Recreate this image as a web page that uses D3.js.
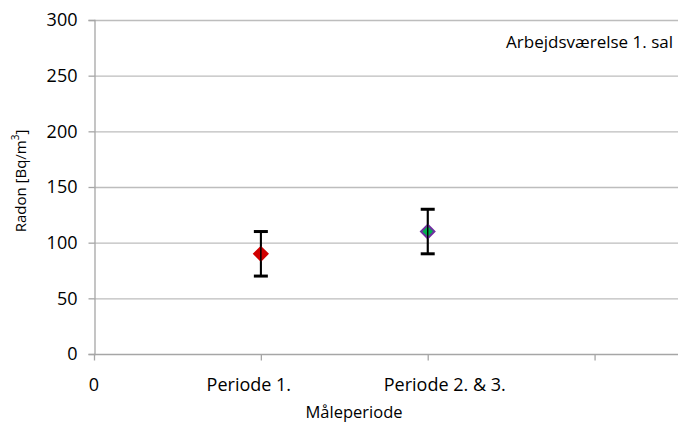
<!DOCTYPE html>
<html><head><meta charset="utf-8">
<script src="https://cdn.jsdelivr.net/npm/d3@7"></script>
<style>body{margin:0;background:#fff}svg{display:block}text{font-family:"Open Sans",sans-serif;fill:#000}</style>
</head><body>
<svg id="c" width="680" height="430"></svg>
<script>
const categories = ["Periode 1.", "Periode 2. & 3."];
const xPositions = [1, 2];
const values = [90, 110];
const errLow = [70, 90];
const errHigh = [110, 130];
const yTicks = [0, 50, 100, 150, 200, 250, 300];
const xTicks = [0, 1, 2, 3];
const markerFill = ["#d00000", "#00b050"];
const markerStroke = ["#d00000", "#7030a0"];

const svg = d3.select("#c");
const mLeft = 94, mRight = 678, mTop = 20, mBottom = 354;
const x = d3.scaleLinear().domain([0, 3.5]).range([mLeft, mRight]);
const y = d3.scaleLinear().domain([0, 300]).range([mBottom, mTop]);

// gridlines
svg.append("g").selectAll("line").data(yTicks.filter(d => d > 0)).join("line")
  .attr("x1", mLeft).attr("x2", mRight)
  .attr("y1", d => y(d) + 0.5).attr("y2", d => y(d) + 0.5)
  .attr("stroke", "#bdbdbd").attr("stroke-width", 1.3);

// y axis
const ya = svg.append("g").attr("transform", `translate(${mLeft + 0.5},0)`)
  .call(d3.axisLeft(y).tickValues(yTicks).tickSize(6).tickPadding(11));
ya.select(".domain").attr("stroke", "#a6a6a6").attr("stroke-width", 1.3);
ya.selectAll(".tick line").attr("stroke", "#a6a6a6").attr("stroke-width", 1.3);
ya.selectAll(".tick text").attr("font-size", 18).attr("font-family", "Open Sans").attr("fill", "#000");

// x axis
const xa = svg.append("g").attr("transform", `translate(0,${mBottom + 0.5})`)
  .call(d3.axisBottom(x).tickValues(xTicks).tickSize(6).tickFormat(() => ""));
xa.select(".domain").attr("stroke", "#a6a6a6").attr("stroke-width", 1.3).attr("d", `M${mLeft},0H${mRight}`);
xa.selectAll(".tick line").attr("stroke", "#a6a6a6").attr("stroke-width", 1.3);

// x labels
svg.append("text").attr("x", x(0)).attr("y", 391).attr("text-anchor", "middle")
  .attr("font-size", 18).text("0");
svg.append("g").selectAll("text").data(categories).join("text")
  .attr("x", (d, i) => x(xPositions[i]) + (i === 1 ? 17 : -12))
  .attr("y", 391).attr("text-anchor", "middle").attr("font-size", 18).text(d => d);

// error bars
const eb = svg.append("g").selectAll("g").data(values).join("g");
eb.append("line").attr("x1", (d, i) => x(xPositions[i])).attr("x2", (d, i) => x(xPositions[i]))
  .attr("y1", (d, i) => y(errLow[i])).attr("y2", (d, i) => y(errHigh[i]))
  .attr("stroke", "#000").attr("stroke-width", 2);
[errLow, errHigh].forEach(arr => {
  eb.append("line").attr("x1", (d, i) => x(xPositions[i]) - 7).attr("x2", (d, i) => x(xPositions[i]) + 7)
    .attr("y1", (d, i) => y(arr[i])).attr("y2", (d, i) => y(arr[i]))
    .attr("stroke", "#000").attr("stroke-width", 3);
});

// markers
const sym = d3.symbol().type(d3.symbolDiamond2).size(115);
svg.append("g").selectAll("path").data(values).join("path")
  .attr("d", sym)
  .attr("transform", (d, i) => `translate(${x(xPositions[i])},${y(d)})`)
  .attr("fill", (d, i) => markerFill[i]).attr("stroke", (d, i) => markerStroke[i]).attr("stroke-width", 2);

// error bar line over markers (as in reference)
svg.append("g").selectAll("line").data(values).join("line")
  .attr("x1", (d, i) => x(xPositions[i])).attr("x2", (d, i) => x(xPositions[i]))
  .attr("y1", (d, i) => y(errLow[i])).attr("y2", (d, i) => y(errHigh[i]))
  .attr("stroke", "#000").attr("stroke-width", 1.5);

// titles
svg.append("text").attr("transform", `translate(26,181) rotate(-90)`)
  .attr("text-anchor", "middle").attr("font-size", 15).html("Radon [Bq/m<tspan baseline-shift='super' font-size='10'>3</tspan>]");
svg.append("text").attr("x", 354).attr("y", 418).attr("text-anchor", "middle").attr("font-size", 16.5).text("Måleperiode");
svg.append("text").attr("x", 673).attr("y", 48).attr("text-anchor", "end").attr("font-size", 17).text("Arbejdsværelse 1. sal");
</script>
</body></html>
